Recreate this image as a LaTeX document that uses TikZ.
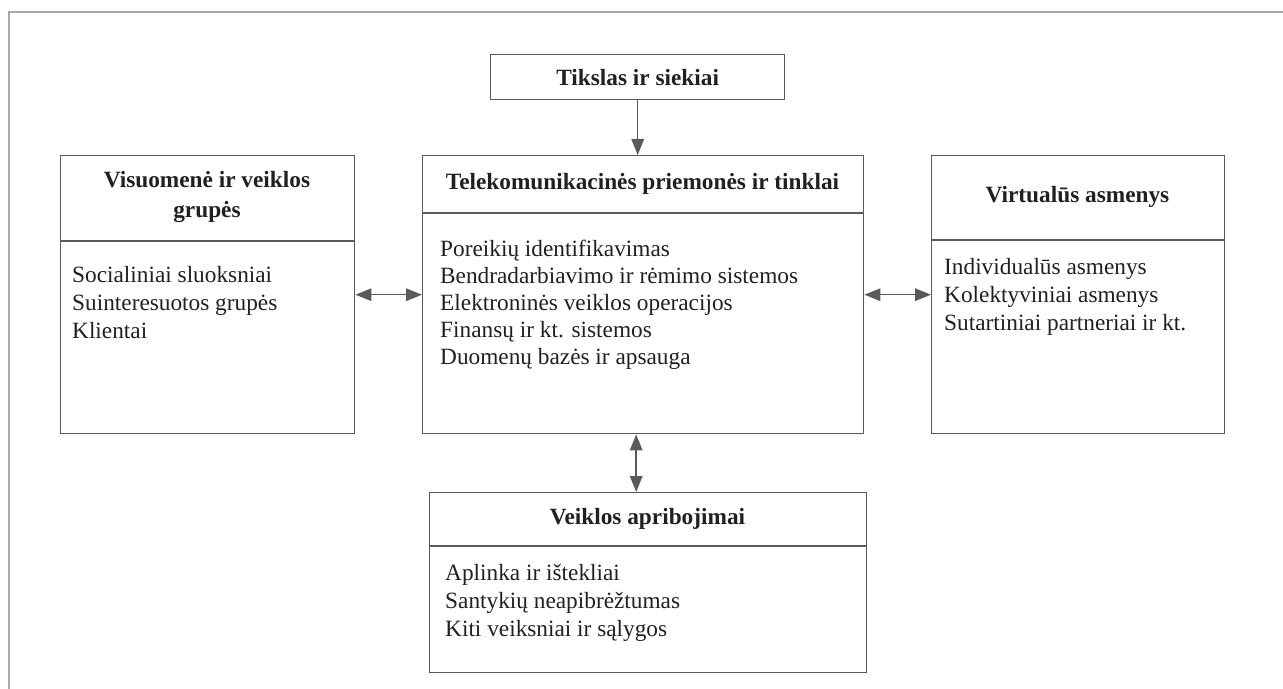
\documentclass[tikz,border=0pt]{standalone}
\usepackage{fontspec}
\setmainfont{Liberation Serif}
\usetikzlibrary{arrows.meta}
\definecolor{linec}{HTML}{5A5A5A}
\definecolor{framec}{HTML}{A8A8A8}
\definecolor{txt}{HTML}{231F20}
\newcommand{\bodyfnt}{\fontsize{23.3bp}{28bp}\selectfont}
\newcommand{\headfnt}{\fontsize{23.3bp}{30bp}\selectfont\bfseries}
\tikzset{
  boxnode/.style={draw=linec, line width=1.4bp, inner sep=0pt, anchor=north west},
  divider/.style={draw=linec, line width=1.4bp},
  headtxt/.style={font=\headfnt, text=txt, inner sep=0pt, align=center},
  bodytxt/.style={font=\bodyfnt, text=txt, inner sep=0pt, align=left, anchor=west},
  tip/.tip={Triangle[length=16bp,width=12.5bp]},
  arr/.style={draw=linec, line width=1.5bp, -tip},
  biarr/.style={draw=linec, line width=1.5bp, tip-tip}
}
\begin{document}
\begin{tikzpicture}[x=1bp,y=-1bp]
\useasboundingbox (0,0) rectangle (1283,689);
% frame
\draw[framec, line width=2bp] (1283,12) -- (9,12) -- (9,689);

% boxes
\node[boxnode, minimum width=294bp, minimum height=45bp] (tik) at (490,54) {};
\node[boxnode, minimum width=441bp, minimum height=278bp] (main) at (422,155) {};
\node[boxnode, minimum width=294bp, minimum height=278bp] (left) at (60,155) {};
\node[boxnode, minimum width=293bp, minimum height=278bp] (right) at (931,155) {};
\node[boxnode, minimum width=437bp, minimum height=180bp] (bot) at (429,492) {};

% dividers
\coordinate (mdiv) at (0,213);
\coordinate (ldiv) at (0,241);
\coordinate (rdiv) at (0,240);
\coordinate (bdiv) at (0,546);
\draw[divider] (main.west |- mdiv) -- (main.east |- mdiv);
\draw[divider] (left.west |- ldiv) -- (left.east |- ldiv);
\draw[divider] (right.west |- rdiv) -- (right.east |- rdiv);
\draw[divider] (bot.west |- bdiv) -- (bot.east |- bdiv);

% headers
\node[headtxt] (tikh) at (tik.center) {Tikslas ir siekiai};
\node[headtxt] (mainh) at (642.5,184) {Telekomunikacinės priemonės ir tinklai};
\node[headtxt] (lefth) at (207,197) {Visuomenė ir veiklos\\grupės};
\node[headtxt] (righth) at (1077.5,197) {Virtualūs asmenys};
\node[headtxt] (both) at (647.5,519) {Veiklos apribojimai};

% bodies
\node[bodytxt] (leftb) at (72,305) {\strut Socialiniai sluoksniai\\\strut Suinteresuotos grupės\\\strut Klientai};
\node[bodytxt, font=\fontsize{23.3bp}{27bp}\selectfont] (mainb) at (440,305) {\strut Poreikių identifikavimas\\\strut Bendradarbiavimo ir rėmimo sistemos\\\strut Elektroninės veiklos operacijos\\\strut Finansų ir kt. sistemos\\\strut Duomenų bazės ir apsauga};
\node[bodytxt] (rightb) at (944,297) {\strut Individualūs asmenys\\\strut Kolektyviniai asmenys\\\strut Sutartiniai partneriai ir kt.};
\node[bodytxt] (botb) at (445,603) {\strut Aplinka ir ištekliai\\\strut Santykių neapibrėžtumas\\\strut Kiti veiksniai ir sąlygos};

% connectors
\draw[arr] (tik.south) -- (tik.south |- main.north);
\draw[biarr] (left.east) -- (main.west);
\draw[biarr] (main.east) -- (right.west);
\draw[biarr] ([xshift=-7bp]main.south) -- ([xshift=-7bp]main.south |- bot.north);
\end{tikzpicture}
\end{document}
